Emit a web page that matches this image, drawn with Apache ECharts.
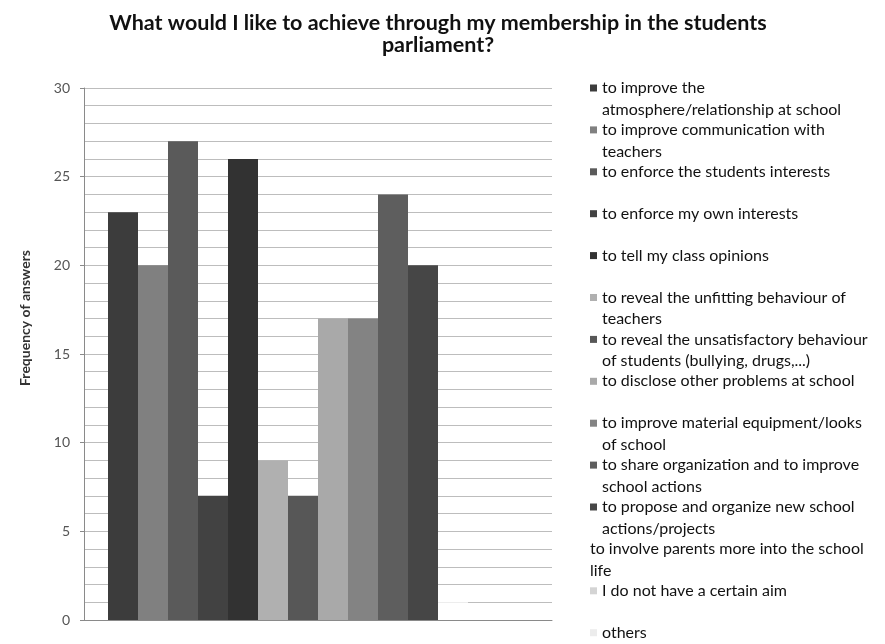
<!DOCTYPE html>
<html><head><meta charset="utf-8">
<script src="https://cdn.jsdelivr.net/npm/echarts@6/dist/echarts.min.js"></script>
<style>html,body{margin:0;padding:0;background:#fff}#c{width:885px;height:644px}</style>
</head><body><div id="c"></div>
<script>
const chartTitle = 'What would I like to achieve through my membership in the students\nparliament?';
const axisName = 'Frequency of answers';
const categories = [
  'to improve the atmosphere/relationship at school',
  'to improve communication with teachers',
  'to enforce the students interests',
  'to enforce my own interests',
  'to tell my class opinions',
  'to reveal the unfitting behaviour of teachers',
  'to reveal the unsatisfactory behaviour of students (bullying, drugs,...)',
  'to disclose other problems at school',
  'to improve material equipment/looks of school',
  'to share organization and to improve school actions',
  'to propose and organize new school actions/projects',
  'to involve parents more into the school life',
  'I do not have a certain aim',
  'others'
];
const legendLabels = [
  'to improve the\natmosphere/relationship at school',
  'to improve communication with\nteachers',
  'to enforce the students interests',
  'to enforce my own interests',
  'to tell my class opinions',
  'to reveal the unfitting behaviour of\nteachers',
  'to reveal the unsatisfactory behaviour\nof students (bullying, drugs,...)',
  'to disclose other problems at school',
  'to improve material equipment/looks\nof school',
  'to share organization and to improve\nschool actions',
  'to propose and organize new school\nactions/projects',
  'to involve parents more into the school\nlife',
  'I do not have a certain aim',
  'others'
];
const values = [23, 20, 27, 7, 26, 9, 7, 17, 17, 24, 20, 1, 0, 0];
const yTickLabels = [0, 5, 10, 15, 20, 25, 30];
const colors = ['#3c3c3c','#808080','#5a5a5a','#424242','#323232','#b0b0b0','#575757',
                '#a9a9a9','#838383','#5e5e5e','#464646','#ffffff','#d4d4d4','#ececec'];

const FONT = 'Lato, "Liberation Sans", sans-serif';
const LH = 21.5;
const legendFirst = 88, legendStep = 41.9;

const series = categories.map((name, i) => ({
  type: 'bar', name: name, data: [values[i]],
  barWidth: 30, barGap: '0%',
  itemStyle: { color: colors[i] },
  emphasis: { disabled: true }
}));

const legends = categories.map((name, i) => {
  const lines = legendLabels[i].split('\n').length;
  const noMarker = colors[i] === '#ffffff';
  return {
    orient: 'vertical', left: noMarker ? 578 : 590,
    top: legendFirst + i * legendStep - (lines > 1 ? 1.5 : 0.5) * LH,
    padding: 0, itemWidth: 7, itemHeight: 7, icon: 'rect', selectedMode: false,
    data: [name],
    formatter: () => (lines > 1 ? '\n' : '') + legendLabels[i],
    textStyle: { fontFamily: FONT, fontSize: 16, lineHeight: LH, color: '#111' }
  };
});

const chart = echarts.init(document.getElementById('c'), null, { renderer: 'canvas' });
chart.setOption({
  animation: false,
  backgroundColor: '#fff',
  title: {
    text: chartTitle, left: 438, top: 12, textAlign: 'center', padding: 0,
    textStyle: { fontFamily: FONT, fontSize: 21.5, fontWeight: 'bold', lineHeight: 22, color: '#111' }
  },
  legend: legends,
  grid: { left: 84, right: 333, top: 88, bottom: 24, containLabel: false },
  xAxis: {
    type: 'category', data: [''],
    axisLine: { show: true, lineStyle: { color: '#8a8a8a' } },
    axisTick: { show: false }, axisLabel: { show: false }
  },
  yAxis: {
    type: 'value', min: yTickLabels[0], max: yTickLabels[yTickLabels.length - 1], interval: 5,
    name: axisName, nameLocation: 'middle', nameGap: 52, nameRotate: 90,
    nameTextStyle: { fontFamily: FONT, fontSize: 14, fontWeight: 'bold', color: '#333', padding: [0, 0, 0, 72] },
    axisLine: { show: true, lineStyle: { color: '#8a8a8a' } },
    axisTick: { show: true, length: 4, lineStyle: { color: '#8a8a8a' } },
    axisLabel: { fontFamily: FONT, fontSize: 14, color: '#555', margin: 14 },
    splitLine: { show: true, lineStyle: { color: '#bdbdbd', width: 1 } },
    minorTick: { show: false, splitNumber: 5 },
    minorSplitLine: { show: true, lineStyle: { color: '#bdbdbd', width: 1 } }
  },
  series: series
});
</script>
</body></html>
